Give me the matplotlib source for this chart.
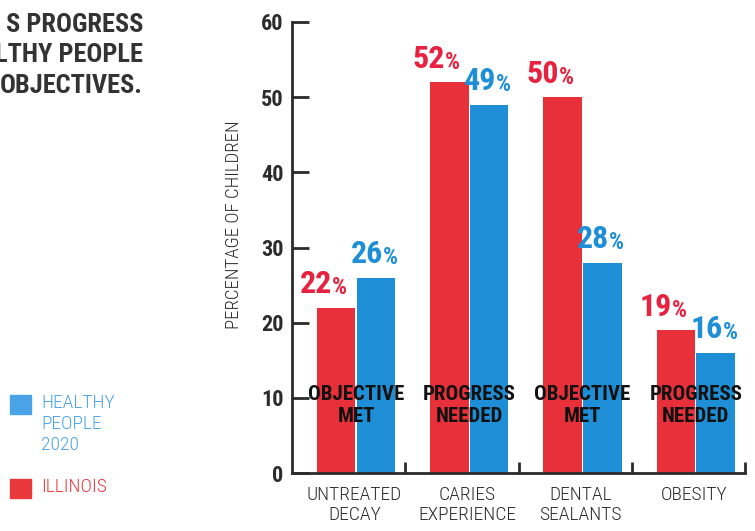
import matplotlib
matplotlib.use("Agg")
import matplotlib.pyplot as plt
from matplotlib import font_manager

# ---- data ----
categories = ["UNTREATED\nDECAY", "CARIES\nEXPERIENCE", "DENTAL\nSEALANTS", "OBESITY"]
illinois = [22, 52, 50, 19]
healthy_people = [26, 49, 28, 16]
status = ["OBJECTIVE\nMET", "PROGRESS\nNEEDED", "OBJECTIVE\nMET", "PROGRESS\nNEEDED"]
yticks = [0, 10, 20, 30, 40, 50, 60]
title_lines = "S PROGRESS\nLTHY PEOPLE\nOBJECTIVES."
legend_labels = ["HEALTHY\nPEOPLE\n2020", "ILLINOIS"]

names = sorted({f.name for f in font_manager.fontManager.ttflist})

def pick(cands):
    for c in cands:
        if c in names:
            return c
    return "DejaVu Sans"

narrow = pick(["Roboto Condensed", "Liberation Sans Narrow", "DejaVu Sans Condensed", "DejaVu Sans"])

RED = "#e8303a"
BLUE = "#1e8fd6"
RED_TXT = "#e8213f"
BLUE_TXT = "#1e8fd6"
DARK = "#2b2b2b"

fig = plt.figure(figsize=(7.55, 5.31), dpi=100)
ax = fig.add_axes([292/755, 1-473/531, (745-292)/755, (473-22)/531])

w = 0.34
xs = list(range(len(categories)))
red_x = [x + 0.22 for x in xs]
blue_x = [x + 0.57 for x in xs]
ax.bar(red_x, illinois, width=w, align="edge", color=RED)
ax.bar(blue_x, healthy_people, width=w, align="edge", color=BLUE)

ax.set_xlim(0, 4)
ax.set_ylim(0, 60)
ax.set_yticks(yticks)
ax.set_yticklabels([str(v) for v in yticks], fontsize=16, fontweight="bold",
                   family=narrow, color=DARK)
ax.set_xticks([1, 2, 3, 4])
ax.set_xticklabels([])
ax.tick_params(axis="y", direction="in", length=12, width=2, color=DARK, pad=6)
ax.tick_params(axis="x", direction="in", length=8, width=2, color=DARK)
for s in ["top", "right"]:
    ax.spines[s].set_visible(False)
for s in ["left", "bottom"]:
    ax.spines[s].set_linewidth(2)
    ax.spines[s].set_color(DARK)

ax.set_ylabel("PERCENTAGE OF CHILDREN", family=narrow, fontsize=13.5, color=DARK,
              fontweight="light")
ax.yaxis.set_label_coords(-0.108, 0.55)

def value_label(x, v, color, dx):
    ax.annotate(f"{v}", xy=(x, v), xytext=(dx, 6), textcoords="offset points",
                ha="right", va="bottom", fontsize=23, fontweight="bold",
                family=narrow, color=color)
    ax.annotate("%", xy=(x, v), xytext=(dx, 6), textcoords="offset points",
                ha="left", va="bottom", fontsize=17, fontweight="bold",
                family=narrow, color=color)

for i in xs:
    value_label(red_x[i] + w/2, illinois[i], RED_TXT, -3)
    value_label(blue_x[i] + w/2, healthy_people[i], BLUE_TXT, 5)
    ax.text(i + 0.565, 9.0, status[i], ha="center", va="center", fontsize=15,
            fontweight="heavy", family=narrow, color="#111111", linespacing=1.2)
    ax.annotate(categories[i], xy=(i + 0.55, 0), xytext=(0, -9),
                textcoords="offset points", ha="center", va="top",
                fontsize=14, family=narrow, fontweight="light", color=DARK,
                linespacing=1.2, annotation_clip=False)

fig.text(143/755, 1-13/531, title_lines, ha="right", va="top", fontsize=19,
         fontweight="heavy", family=narrow, color="#333333", linespacing=1.33)

# legend
fig.patches.append(plt.Rectangle((10/755, 1-414/531), 21/755, 19/531,
                                 transform=fig.transFigure, color="#4aa3e6"))
fig.patches.append(plt.Rectangle((10/755, 1-498/531), 21/755, 19/531,
                                 transform=fig.transFigure, color="#e8383c"))
fig.text(41/755, 1-394/531, legend_labels[0], ha="left", va="top", fontsize=14,
         family=narrow, fontweight="light", color="#4aa3e6", linespacing=1.2)
fig.text(41/755, 1-478/531, legend_labels[1], ha="left", va="top", fontsize=14,
         family=narrow, fontweight="light", color="#e8383c")

fig.savefig("out.png", dpi=100)
